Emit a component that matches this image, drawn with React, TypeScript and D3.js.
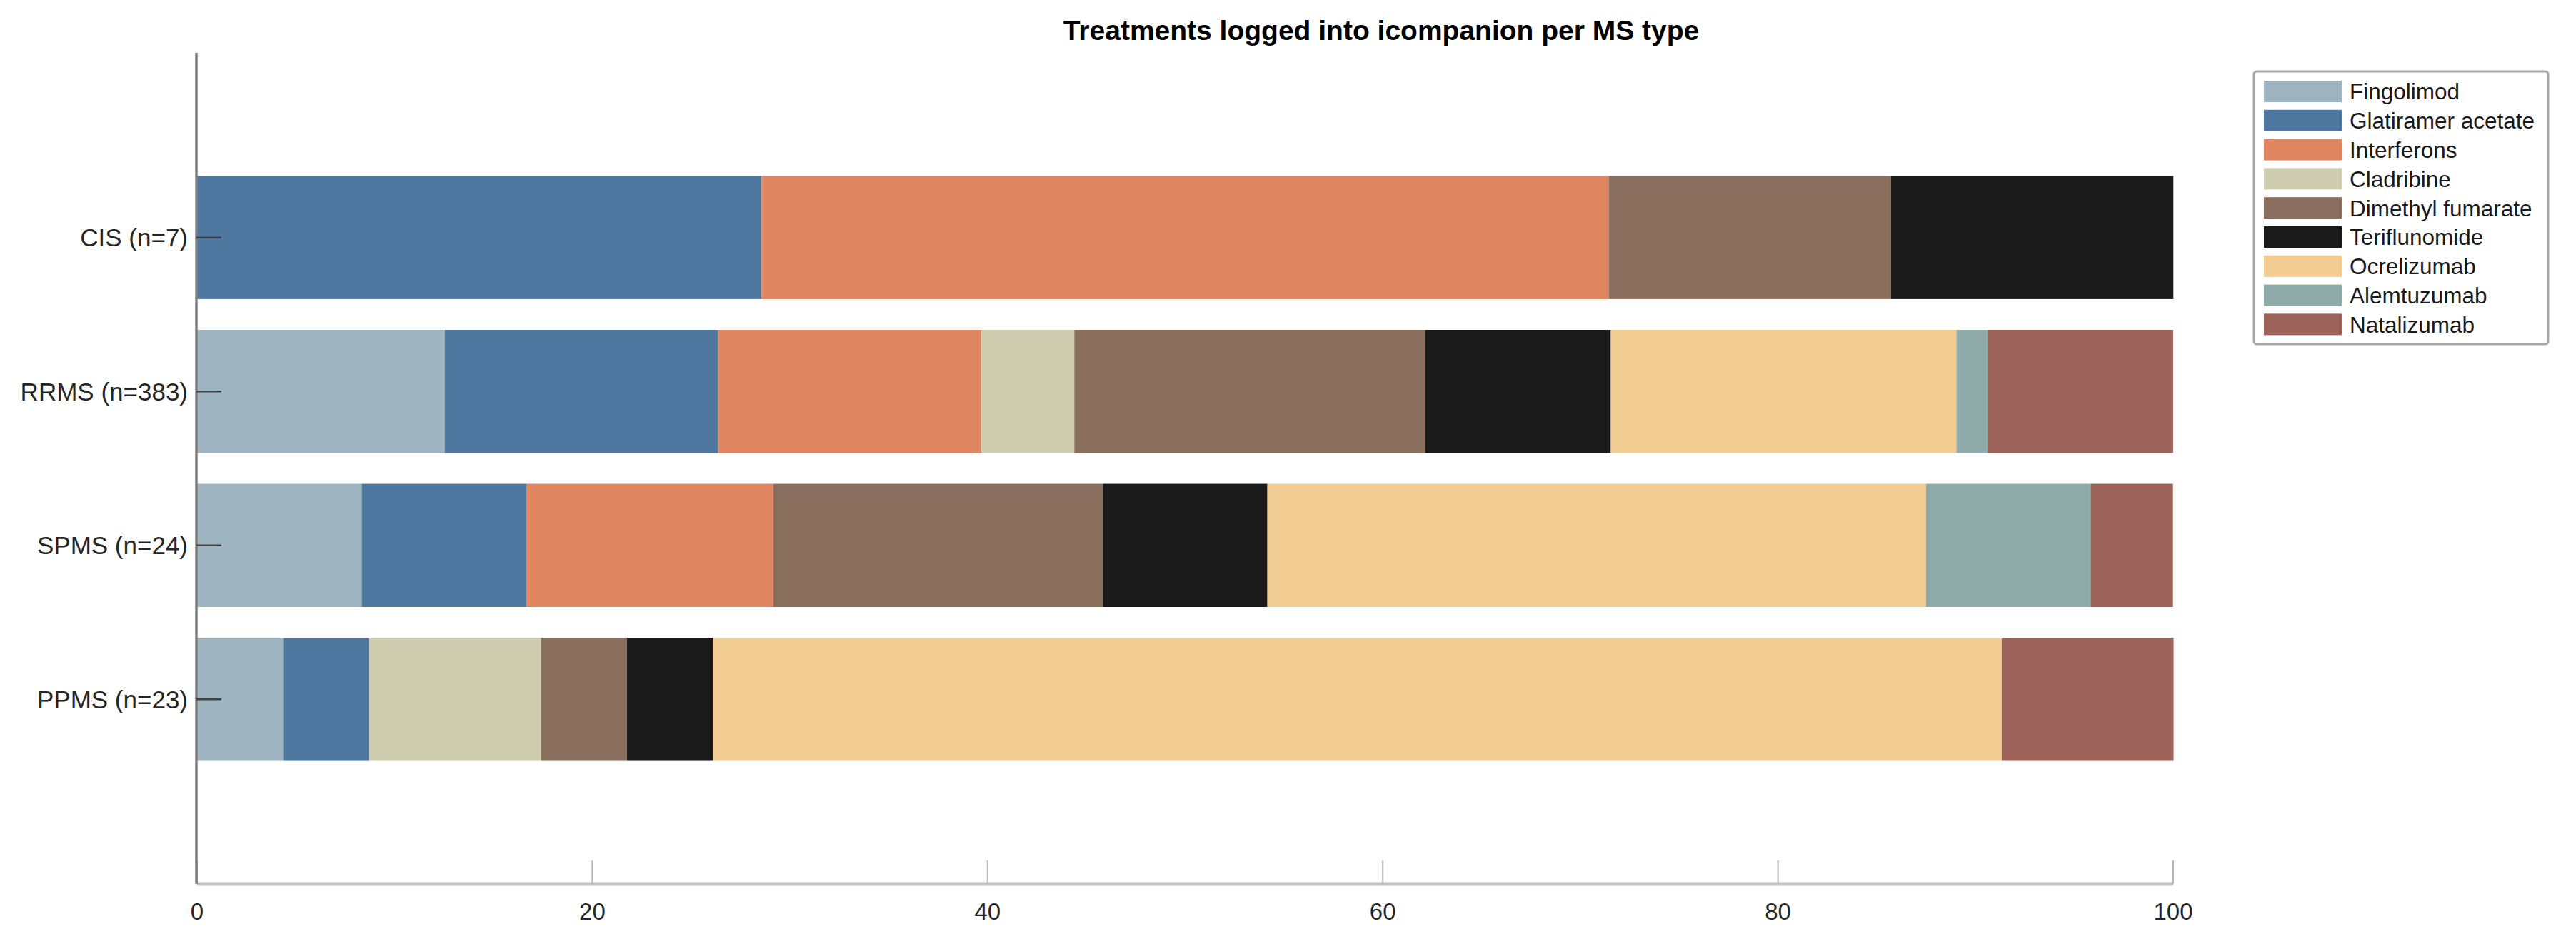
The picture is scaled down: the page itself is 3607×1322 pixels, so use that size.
import React from "react";
import * as d3 from "d3";

const title = "Treatments logged into icompanion per MS type";
const categories = ["CIS (n=7)", "RRMS (n=383)", "SPMS (n=24)", "PPMS (n=23)"];
const treatments = [
  "Fingolimod",
  "Glatiramer acetate",
  "Interferons",
  "Cladribine",
  "Dimethyl fumarate",
  "Teriflunomide",
  "Ocrelizumab",
  "Alemtuzumab",
  "Natalizumab",
];
const colors = ["#9eb5c1", "#4e789f", "#e08761", "#cfcdb0", "#8a6f5f", "#1a1a1a", "#f1cc93", "#8eaaa9", "#9d635a"];
// percent share of each treatment, per category (same order as categories)
const fingolimod = [0, 12.53, 8.33, 4.35];
const glatiramer = [28.57, 13.84, 8.33, 4.35];
const interferons = [42.86, 13.32, 12.5, 0];
const cladribine = [0, 4.7, 0, 8.7];
const dimethylFumarate = [14.29, 17.75, 16.67, 4.35];
const teriflunomide = [14.29, 9.4, 8.33, 4.35];
const ocrelizumab = [0, 17.49, 33.33, 65.22];
const alemtuzumab = [0, 1.57, 8.33, 0];
const natalizumab = [0, 9.4, 4.17, 8.7];
const xTicks = [0, 20, 40, 60, 80, 100];

const series = [fingolimod, glatiramer, interferons, cladribine, dimethylFumarate, teriflunomide, ocrelizumab, alemtuzumab, natalizumab];

const W = 3607;
const H = 1322;
const FONT = "'Liberation Sans', Arial, Helvetica, sans-serif";

export default function App() {
  const rows = categories.map((c, i) => {
    const r: any = { cat: c, idx: i };
    treatments.forEach((t, j) => (r[t] = series[j][i]));
    return r;
  });
  const stacked = d3.stack<any>().keys(treatments)(rows);

  const x = d3.scaleLinear().domain([0, 100]).range([276, 3043]);
  const y = d3.scaleLinear().domain([-1.2, 4.2]).range([74, 1238]);
  const barH = y(0.8) - y(0);

  return (
    <svg
      width={W}
      height={H}
      style={{ position: "absolute", left: 0, top: 0, display: "block", background: "#fff" }}
      fontFamily={FONT}
    >
      <rect x={0} y={0} width={W} height={H} fill="#fff" />
      {stacked.map((s, j) => (
        <g key={s.key} fill={colors[j]}>
          {s.map((d, i) =>
            d[1] - d[0] > 0 ? (
              <rect
                key={i}
                x={x(d[0])}
                width={x(d[1]) - x(d[0])}
                y={y(i) - barH / 2}
                height={barH}
              />
            ) : null
          )}
        </g>
      ))}

      {/* x axis */}
      <line x1={x(0)} x2={x(100)} y1={y(4.2)} y2={y(4.2)} stroke="#c4c4c4" strokeWidth={5} />
      {xTicks.map((t) => (
        <g key={t}>
          <line x1={x(t)} x2={x(t)} y1={y(4.2)} y2={y(4.2) - 33} stroke="#b5b5b5" strokeWidth={2} />
          <text x={x(t)} y={1288} textAnchor="middle" fontSize={33} fill="#262626">
            {t}
          </text>
        </g>
      ))}

      {/* y axis */}
      <line x1={275} x2={275} y1={y(-1.2)} y2={y(4.2)} stroke="#7d7d7d" strokeWidth={3.5} />
      {categories.map((c, i) => (
        <g key={c}>
          <line x1={275} x2={310} y1={y(i)} y2={y(i)} stroke="#404040" strokeWidth={2.5} />
          <text x={263} y={y(i)} dy="0.36em" textAnchor="end" fontSize={35} fill="#262626">
            {c}
          </text>
        </g>
      ))}

      {/* title */}
      <text x={1934} y={56} textAnchor="middle" fontSize={39} fontWeight="bold" fill="#000">
        {title}
      </text>

      {/* legend */}
      <rect x={3156} y={100} width={412} height={382} rx={4} fill="#fff" stroke="#a8a8a8" strokeWidth={3} />
      {treatments.map((t, j) => {
        const cy = 128 + j * 40.8;
        return (
          <g key={t}>
            <rect x={3170} y={cy - 15} width={109} height={30} fill={colors[j]} />
            <text x={3290} y={cy} dy="0.36em" fontSize={31.5} fill="#1a1a1a">
              {t}
            </text>
          </g>
        );
      })}
    </svg>
  );
}
